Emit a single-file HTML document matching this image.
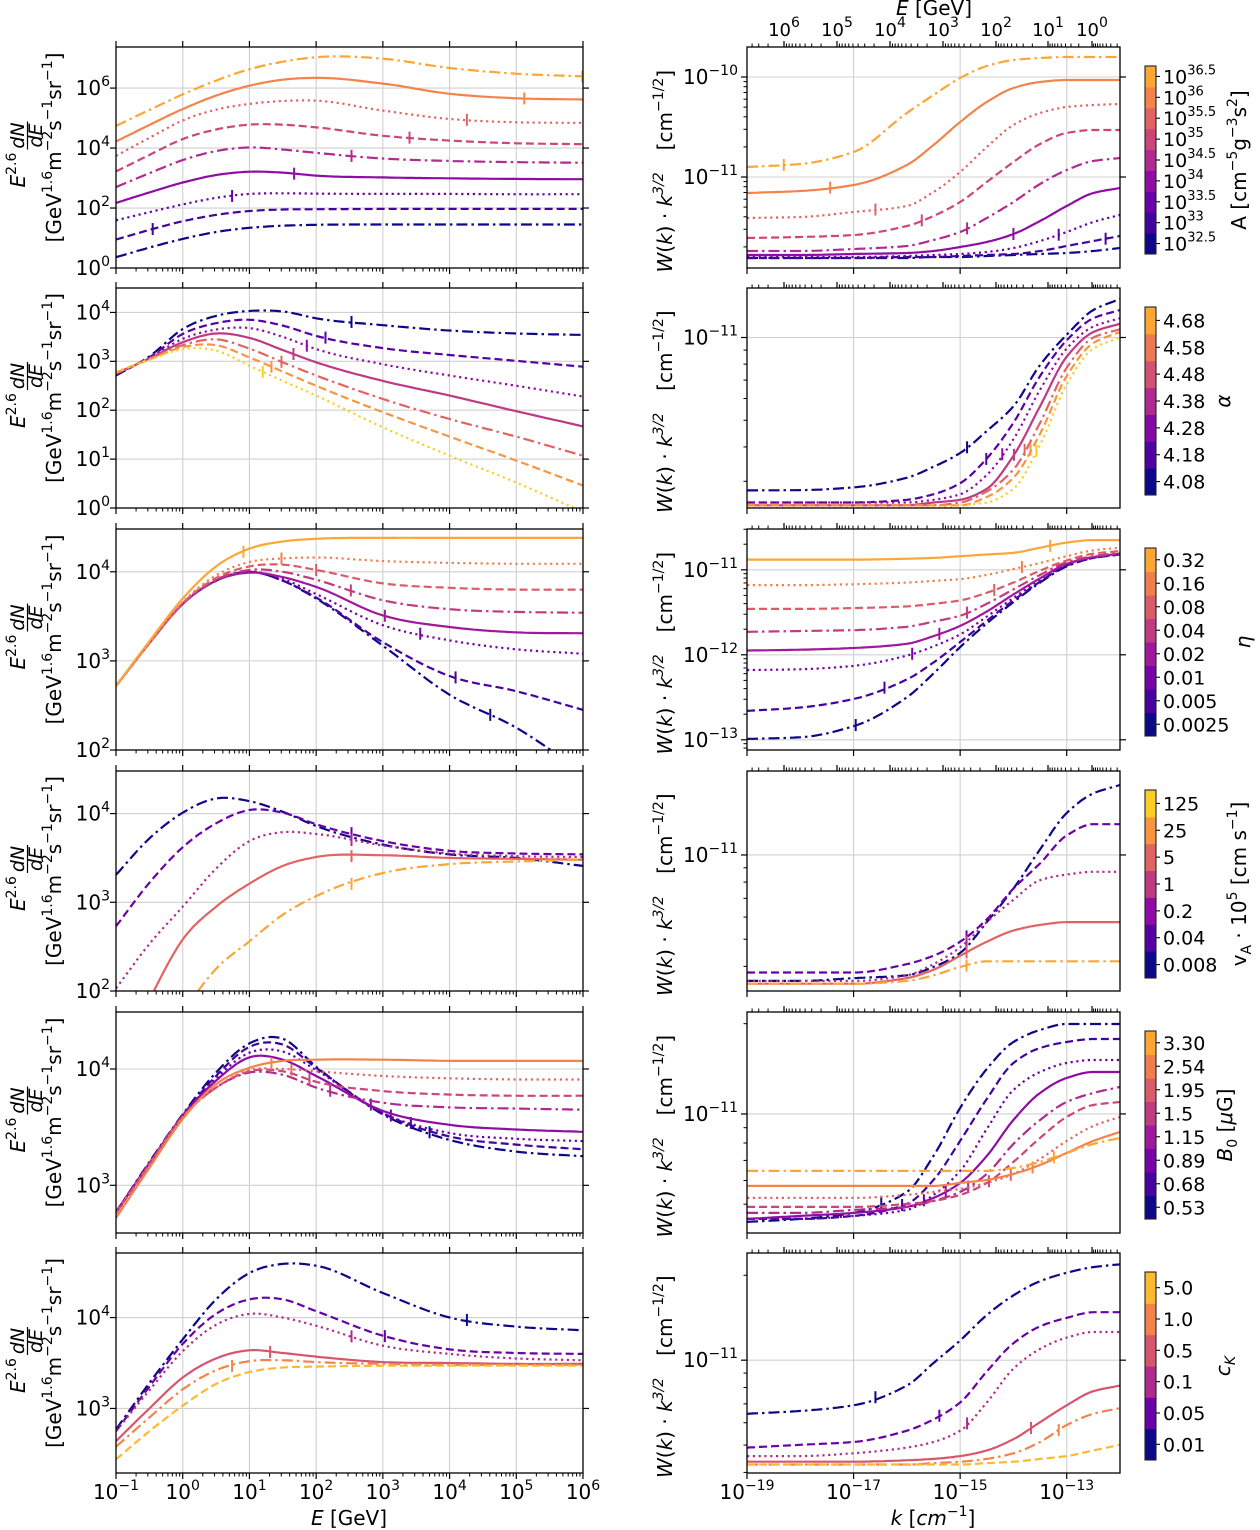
<!DOCTYPE html>
<html><head><meta charset="utf-8">
<style>
html,body{margin:0;padding:0;background:#fff;}
svg{display:block;font-family:"DejaVu Sans","Liberation Sans",sans-serif;}
</style></head>
<body>
<svg id="chart" width="1260" height="1530" viewBox="0 0 1260 1530" xmlns="http://www.w3.org/2000/svg">
<rect x="0" y="0" width="1260" height="1530" fill="#fff"/>
</svg>
<script>
// ---------------- DATA ----------------
const xsE = [-1,-0.5,0,0.5,1,1.5,2,3,4,5,6];            // log10 E [GeV]
const xsK = [-19,-18,-17,-16,-15.5,-15,-14.5,-14,-13.5,-13,-12.5,-12]; // log10 k

const L1_values = [
 [0.36,0.68,0.97,1.20,1.34,1.41,1.44,1.45,1.45,1.45,1.45],
 [0.95,1.27,1.56,1.77,1.90,1.95,1.96,1.97,1.97,1.97,1.97],
 [1.59,1.86,2.12,2.34,2.47,2.49,2.48,2.47,2.47,2.46,2.46],
 [2.17,2.52,2.85,3.10,3.21,3.18,3.08,3.02,2.99,2.97,2.96],
 [2.70,3.16,3.60,3.90,4.02,3.95,3.84,3.65,3.57,3.53,3.51],
 [3.22,3.77,4.30,4.62,4.78,4.78,4.69,4.41,4.25,4.16,4.13],
 [3.74,4.34,4.92,5.28,5.47,5.57,5.58,5.25,4.97,4.86,4.84],
 [4.22,4.77,5.30,5.75,6.08,6.28,6.34,6.15,5.81,5.66,5.62],
 [4.74,5.27,5.79,6.25,6.63,6.88,7.03,6.98,6.67,6.48,6.39]
];
const L1_markers = [null,-0.45,0.74,1.67,2.53,3.40,4.26,5.12,5.99];

const L2_values = [
 [2.71,3.10,3.66,3.93,4.03,4.02,3.88,3.74,3.63,3.57,3.54],
 [2.73,3.08,3.56,3.78,3.85,3.73,3.52,3.27,3.13,3.01,2.89],
 [2.74,3.07,3.46,3.65,3.68,3.50,3.25,2.94,2.71,2.50,2.28],
 [2.75,3.06,3.39,3.57,3.48,3.23,2.98,2.60,2.30,1.98,1.67],
 [2.76,3.05,3.33,3.45,3.26,2.98,2.71,2.23,1.82,1.46,1.07],
 [2.77,3.04,3.29,3.33,3.08,2.79,2.50,1.96,1.46,0.97,0.46],
 [2.79,3.03,3.25,3.22,2.91,2.60,2.30,1.65,1.07,0.52,-0.08]
];
const L2_markers = [2.53,2.14,1.86,1.66,1.48,1.33,1.20];

const L3_values = [
 [2.72,3.20,3.64,3.90,4.00,3.90,3.70,3.17,2.62,2.25,1.75],
 [2.72,3.20,3.64,3.90,4.00,3.90,3.71,3.21,2.83,2.66,2.45],
 [2.72,3.20,3.64,3.90,4.00,3.92,3.75,3.40,3.23,3.13,3.08],
 [2.72,3.20,3.64,3.90,3.99,3.94,3.83,3.51,3.38,3.32,3.31],
 [2.72,3.20,3.64,3.91,4.02,4.00,3.91,3.68,3.58,3.55,3.54],
 [2.72,3.20,3.65,3.93,4.06,4.08,4.02,3.87,3.82,3.80,3.80],
 [2.72,3.20,3.66,3.96,4.11,4.15,4.16,4.12,4.10,4.09,4.09],
 [2.72,3.22,3.70,4.06,4.26,4.34,4.37,4.38,4.38,4.38,4.38]
];
const L3_markers = [4.61,4.09,3.56,3.03,2.52,2.0,1.48,0.91];

const L4_values = [
 [3.31,3.72,4.01,4.17,4.14,4.02,3.86,3.65,3.54,3.50,3.41],
 [2.73,3.22,3.62,3.89,4.04,4.01,3.88,3.69,3.58,3.55,3.54],
 [2.03,2.53,2.95,3.38,3.69,3.79,3.77,3.64,3.55,3.52,3.51],
 [1.10,1.90,2.58,2.95,3.21,3.41,3.51,3.53,3.50,3.49,3.48],
 [0.30,1.10,1.75,2.25,2.56,2.86,3.07,3.33,3.43,3.46,3.48]
];
const L4_markers = [2.53,2.53,2.53,2.53,2.53];

const L5_values = [
 [2.77,3.20,3.61,3.97,4.22,4.26,4.02,3.61,3.39,3.29,3.25],
 [2.77,3.19,3.60,3.94,4.19,4.21,4.01,3.62,3.42,3.35,3.31],
 [2.77,3.19,3.60,3.92,4.14,4.15,3.99,3.62,3.45,3.40,3.38],
 [2.77,3.19,3.60,3.90,4.10,4.08,3.94,3.64,3.52,3.48,3.46],
 [2.76,3.18,3.59,3.84,3.97,3.95,3.84,3.71,3.67,3.66,3.65],
 [2.76,3.18,3.59,3.84,3.98,3.98,3.89,3.81,3.78,3.77,3.77],
 [2.76,3.18,3.59,3.84,3.99,4.00,3.98,3.94,3.92,3.91,3.91],
 [2.72,3.15,3.57,3.87,4.01,4.07,4.08,4.08,4.07,4.07,4.07]
];
const L5_markers = [3.70,3.42,3.12,2.82,2.21,1.90,1.63,1.33];

const L6_values = [
 [2.77,3.28,3.76,4.20,4.49,4.59,4.57,4.27,4.00,3.90,3.86],
 [2.75,3.24,3.71,4.04,4.20,4.20,4.07,3.80,3.65,3.61,3.60],
 [2.75,3.20,3.63,3.92,4.04,4.00,3.91,3.69,3.60,3.55,3.53],
 [2.64,3.00,3.34,3.55,3.64,3.61,3.57,3.51,3.50,3.49,3.49],
 [2.58,2.90,3.21,3.42,3.52,3.53,3.51,3.49,3.48,3.48,3.48],
 [2.44,2.75,3.03,3.27,3.40,3.45,3.46,3.47,3.47,3.47,3.47]
];
const L6_markers = [4.26,3.03,2.53,1.31,0.74,null];

const R1_values = [
 [-11.81,-11.81,-11.81,-11.81,-11.80,-11.80,-11.79,-11.78,-11.77,-11.76,-11.74,-11.71],
 [-11.81,-11.81,-11.81,-11.80,-11.80,-11.79,-11.78,-11.77,-11.74,-11.69,-11.64,-11.59],
 [-11.80,-11.80,-11.80,-11.79,-11.78,-11.77,-11.75,-11.71,-11.64,-11.55,-11.45,-11.38],
 [-11.78,-11.78,-11.77,-11.76,-11.74,-11.70,-11.65,-11.57,-11.44,-11.29,-11.16,-11.11],
 [-11.74,-11.74,-11.72,-11.69,-11.63,-11.55,-11.41,-11.25,-11.07,-10.93,-10.84,-10.81],
 [-11.61,-11.60,-11.58,-11.49,-11.39,-11.25,-11.05,-10.85,-10.67,-10.56,-10.53,-10.53],
 [-11.41,-11.40,-11.35,-11.29,-11.15,-10.95,-10.70,-10.48,-10.36,-10.30,-10.28,-10.27],
 [-11.16,-11.14,-11.08,-10.88,-10.68,-10.45,-10.25,-10.11,-10.05,-10.03,-10.03,-10.03],
 [-10.90,-10.87,-10.75,-10.36,-10.18,-10.01,-9.89,-9.83,-9.81,-9.80,-9.80,-9.80]
];
const R1_markers = [null,-12.27,-13.15,-14.0,-14.87,-15.72,-16.59,-17.44,-18.31];

const R2_values = [
 [-11.556,-11.555,-11.545,-11.51,-11.47,-11.42,-11.34,-11.25,-11.10,-10.99,-10.90,-10.86],
 [-11.60,-11.60,-11.60,-11.59,-11.57,-11.53,-11.44,-11.31,-11.14,-11.01,-10.93,-10.90],
 [-11.60,-11.60,-11.60,-11.60,-11.59,-11.57,-11.50,-11.37,-11.19,-11.04,-10.96,-10.93],
 [-11.61,-11.61,-11.61,-11.61,-11.60,-11.59,-11.55,-11.43,-11.25,-11.07,-10.98,-10.95],
 [-11.61,-11.61,-11.61,-11.61,-11.61,-11.60,-11.56,-11.48,-11.31,-11.11,-11.00,-10.97],
 [-11.61,-11.61,-11.61,-11.61,-11.61,-11.61,-11.58,-11.51,-11.35,-11.14,-11.02,-10.98],
 [-11.62,-11.62,-11.62,-11.62,-11.62,-11.61,-11.60,-11.55,-11.39,-11.17,-11.04,-11.00]
];
const R2_markers = [-14.87,-14.51,-14.21,-13.99,-13.79,-13.68,-13.57];

const R3_values = [
 [-12.99,-12.97,-12.84,-12.50,-12.22,-11.91,-11.63,-11.38,-11.15,-10.96,-10.86,-10.82],
 [-12.66,-12.62,-12.52,-12.29,-12.09,-11.85,-11.60,-11.36,-11.14,-10.95,-10.86,-10.82],
 [-12.18,-12.17,-12.13,-12.01,-11.90,-11.76,-11.55,-11.33,-11.12,-10.94,-10.85,-10.82],
 [-11.95,-11.94,-11.92,-11.87,-11.78,-11.66,-11.49,-11.29,-11.10,-10.93,-10.85,-10.81],
 [-11.73,-11.72,-11.71,-11.67,-11.61,-11.54,-11.40,-11.23,-11.06,-10.91,-10.84,-10.80],
 [-11.46,-11.46,-11.45,-11.43,-11.40,-11.36,-11.27,-11.15,-11.01,-10.89,-10.81,-10.78],
 [-11.18,-11.18,-11.17,-11.15,-11.13,-11.11,-11.06,-10.99,-10.92,-10.84,-10.77,-10.74],
 [-10.88,-10.88,-10.88,-10.87,-10.86,-10.84,-10.82,-10.80,-10.74,-10.68,-10.65,-10.65]
];
const R3_markers = [-16.96,-16.42,-15.90,-15.39,-14.87,-14.36,-13.84,-13.31];

const R4_values = [
 [-11.45,-11.45,-11.44,-11.43,-11.40,-11.35,-11.24,-11.12,-10.98,-10.85,-10.78,-10.75],
 [-11.42,-11.42,-11.42,-11.39,-11.36,-11.31,-11.23,-11.12,-11.03,-10.93,-10.89,-10.89],
 [-11.45,-11.45,-11.45,-11.43,-11.39,-11.33,-11.24,-11.16,-11.09,-11.07,-11.06,-11.06],
 [-11.46,-11.46,-11.46,-11.44,-11.41,-11.36,-11.31,-11.27,-11.25,-11.24,-11.24,-11.24],
 [-11.46,-11.46,-11.46,-11.45,-11.43,-11.40,-11.38,-11.38,-11.38,-11.38,-11.38,-11.38]
];
const R4_markers = [-14.88,-14.88,-14.88,-14.88,-14.88];

const R5_values = [
 [-11.36,-11.35,-11.33,-11.26,-11.14,-10.98,-10.85,-10.76,-10.72,-10.70,-10.70,-10.70],
 [-11.35,-11.35,-11.34,-11.30,-11.22,-11.09,-10.95,-10.83,-10.78,-10.76,-10.75,-10.75],
 [-11.35,-11.35,-11.34,-11.32,-11.27,-11.19,-11.05,-10.92,-10.86,-10.83,-10.82,-10.82],
 [-11.35,-11.34,-11.33,-11.31,-11.28,-11.23,-11.14,-11.02,-10.93,-10.88,-10.86,-10.86],
 [-11.33,-11.33,-11.32,-11.31,-11.29,-11.26,-11.20,-11.10,-11.02,-10.96,-10.93,-10.91],
 [-11.31,-11.31,-11.31,-11.30,-11.29,-11.27,-11.23,-11.16,-11.08,-11.01,-10.97,-10.96],
 [-11.28,-11.28,-11.28,-11.27,-11.26,-11.25,-11.23,-11.20,-11.15,-11.09,-11.04,-11.01],
 [-11.24,-11.24,-11.24,-11.24,-11.24,-11.23,-11.22,-11.20,-11.17,-11.13,-11.09,-11.06],
 [-11.19,-11.19,-11.19,-11.19,-11.19,-11.19,-11.19,-11.18,-11.16,-11.13,-11.10,-11.08]
];
const R5_markers = [-16.48,-16.09,-15.68,-15.27,-14.85,-14.46,-14.05,-13.64,-13.24];

const R6_values = [
 [-11.19,-11.18,-11.16,-11.09,-11.01,-10.93,-10.84,-10.77,-10.72,-10.69,-10.67,-10.66],
 [-11.31,-11.30,-11.29,-11.25,-11.21,-11.15,-11.04,-10.94,-10.88,-10.85,-10.83,-10.83],
 [-11.34,-11.34,-11.33,-11.31,-11.29,-11.25,-11.15,-11.03,-10.96,-10.92,-10.90,-10.90],
 [-11.36,-11.36,-11.36,-11.355,-11.35,-11.34,-11.32,-11.28,-11.22,-11.16,-11.11,-11.09],
 [-11.37,-11.37,-11.37,-11.37,-11.365,-11.36,-11.35,-11.33,-11.29,-11.23,-11.19,-11.17],
 [-11.37,-11.37,-11.37,-11.37,-11.37,-11.37,-11.365,-11.36,-11.35,-11.34,-11.32,-11.30]
];
const R6_markers = [-16.59,-15.39,-14.87,-13.67,-13.15,null];

const CB1_labels = [["10","32.5"],["10","33"],["10","33.5"],["10","34"],["10","34.5"],["10","35"],["10","35.5"],["10","36"],["10","36.5"]];
const CB2_labels = ["4.08","4.18","4.28","4.38","4.48","4.58","4.68"];
const CB3_labels = ["0.0025","0.005","0.01","0.02","0.04","0.08","0.16","0.32"];
const CB4_labels = ["0.008","0.04","0.2","1","5","25","125"];
const CB5_labels = ["0.53","0.68","0.89","1.15","1.5","1.95","2.54","3.30"];
const CB6_labels = ["0.01","0.05","0.1","0.5","1.0","5.0"];

const topEDecades = [6,5,4,3,2,1,0];

// ---------------- RENDER ----------------
const NS = 'http://www.w3.org/2000/svg';
const svg = document.getElementById('chart');
function mk(tag, attrs, parent){
  const e = document.createElementNS(NS, tag);
  for (const k in attrs) e.setAttribute(k, attrs[k]);
  parent.appendChild(e);
  return e;
}
const stops = ['#0d0887','#41049d','#6a00a8','#8f0da4','#b12a90','#cc4778','#e16462','#f2844b','#fca636','#fcce25','#f0f921'];
function hex(c){return [parseInt(c.substr(1,2),16),parseInt(c.substr(3,2),16),parseInt(c.substr(5,2),16)];}
function plasma(t){
  t=Math.max(0,Math.min(1,t)); const f=t*10, i=Math.min(9,Math.floor(f)), r=f-i;
  const a=hex(stops[i]), b=hex(stops[i+1]);
  return 'rgb('+a.map((v,j)=>Math.round(v+(b[j]-v)*r)).join(',')+')';
}
const dashes = ['11,4,2.5,4','8,4','2.2,3.6',''];
function sup(b,e,s){return b+'<tspan dy="-9" font-size="'+(s||14)+'">'+e+'</tspan>';}

// cubic Hermite path; monotone (Fritsch–Carlson) or smooth 3-point tangents
function curvePath(xs, vs, X, Y, mono){
  const n=xs.length, h=[], d=[], m=new Array(n);
  for(let i=0;i<n-1;i++){h[i]=xs[i+1]-xs[i]; d[i]=(vs[i+1]-vs[i])/h[i];}
  m[0]=d[0]; m[n-1]=d[n-2];
  for(let i=1;i<n-1;i++){
    if(mono){
      if(d[i-1]*d[i]<=0) m[i]=0;
      else { const w1=2*h[i]+h[i-1], w2=h[i]+2*h[i-1]; m[i]=(w1+w2)/(w1/d[i-1]+w2/d[i]); }
    } else {
      m[i]=(d[i-1]*h[i]+d[i]*h[i-1])/(h[i-1]+h[i]);
    }
  }
  let s='';
  for(let i=0;i<n-1;i++){
    const N=16;
    for(let k=(i===0?0:1);k<=N;k++){
      const t=k/N, t2=t*t, t3=t2*t;
      const v=(2*t3-3*t2+1)*vs[i]+(t3-2*t2+t)*h[i]*m[i]+(-2*t3+3*t2)*vs[i+1]+(t3-t2)*h[i]*m[i+1];
      const x=xs[i]+t*h[i];
      s+=(s===''?'M':'L')+X(x).toFixed(1)+','+Y(v).toFixed(1);
    }
  }
  return s;
}
function interp(xs,vs,m){
  for(let j=0;j<xs.length-1;j++){ if(m>=xs[j]&&m<=xs[j+1]){const r=(m-xs[j])/(xs[j+1]-xs[j]);return vs[j]+r*(vs[j+1]-vs[j]);} }
  return vs[vs.length-1];
}
const range=(n,f)=>Array.from({length:n},(_,i)=>f(i));

const rows=[[47,268],[288,508],[529,750],[771,991],[1012,1233],[1253,1473]];
const LX0=116, LX1=583, RX0=747, RX1=1120;
const leftPanels=[
 {vals:L1_values,mk:L1_markers,ymin:0,ymax:7.37,ticks:[0,2,4,6],cols:range(9,i=>i*0.1)},
 {vals:L2_values,mk:L2_markers,ymin:0,ymax:4.5,ticks:[0,1,2,3,4],cols:range(7,i=>i*0.15)},
 {vals:L3_values,mk:L3_markers,ymin:2,ymax:4.48,ticks:[2,3,4],cols:range(8,i=>i*0.8/7)},
 {vals:L4_values,mk:L4_markers,ymin:2,ymax:4.48,ticks:[2,3,4],cols:[0,0.2,0.4,0.6,0.8]},
 {vals:L5_values,mk:L5_markers,ymin:2.59,ymax:4.49,ticks:[3,4],cols:range(8,i=>i*0.1)},
 {vals:L6_values,mk:L6_markers,ymin:2.29,ymax:4.71,ticks:[3,4],cols:[0,0.2,0.4,0.55,0.7,0.85]}
];
const rightPanels=[
 {vals:R1_values,mk:R1_markers,ymin:-11.91,ymax:-9.70,ticks:[-11,-10],cols:range(9,i=>i*0.1)},
 {vals:R2_values,mk:R2_markers,ymin:-11.62,ymax:-10.82,ticks:[-11],cols:range(7,i=>i*0.15)},
 {vals:R3_values,mk:R3_markers,ymin:-13.12,ymax:-10.52,ticks:[-13,-12,-11],cols:range(8,i=>i*0.8/7)},
 {vals:R4_values,mk:R4_markers,ymin:-11.486,ymax:-10.70,ticks:[-11],cols:[0,0.2,0.4,0.6,0.8]},
 {vals:R5_values,mk:R5_markers,ymin:-11.397,ymax:-10.66,ticks:[-11],cols:range(9,i=>i*0.1)},
 {vals:R6_values,mk:R6_markers,ymin:-11.40,ymax:-10.62,ticks:[-11],cols:[0,0.2,0.4,0.55,0.7,0.85]}
];
const cbars=[
 {labels:CB1_labels,cols:range(9,i=>i*0.1),title:'A [cm<tspan dy="-9" font-size="14">−5</tspan><tspan dy="9">g</tspan><tspan dy="-9" font-size="14">−3</tspan><tspan dy="9">s</tspan><tspan dy="-9" font-size="14">2</tspan><tspan dy="9">]</tspan>',tx:1246},
 {labels:CB2_labels,cols:range(7,i=>i*0.8/6),title:'<tspan font-style="italic">α</tspan>',tx:1230},
 {labels:CB3_labels,cols:range(8,i=>i*0.8/7),title:'<tspan font-style="italic">η</tspan>',tx:1250},
 {labels:CB4_labels,cols:range(7,i=>i*0.15),title:'v<tspan dy="5" font-size="14">A</tspan><tspan dy="-5"> · 10</tspan><tspan dy="-9" font-size="14">5</tspan><tspan dy="9"> [cm s</tspan><tspan dy="-9" font-size="14">−1</tspan><tspan dy="9">]</tspan>',tx:1246},
 {labels:CB5_labels,cols:range(8,i=>i*0.8/7),title:'<tspan font-style="italic">B</tspan><tspan dy="5" font-size="14">0</tspan><tspan dy="-5"> [</tspan><tspan font-style="italic">μ</tspan>G]',tx:1232},
 {labels:CB6_labels,cols:[0,0.2,0.4,0.55,0.7,0.85],title:'<tspan font-style="italic">c</tspan><tspan dy="5" font-size="14" font-style="italic">K</tspan>',tx:1230}
];

function drawPanel(p, side, r){
  const top=rows[r][0], bot=rows[r][1];
  const x0 = side==='L'?LX0:RX0, x1 = side==='L'?LX1:RX1;
  const xmin = side==='L'?-1:-19, xmax = side==='L'?6:-12;
  const xs = side==='L'?xsE:xsK;
  const X = v => x0 + (v-xmin)/(xmax-xmin)*(x1-x0);
  const Y = v => bot - (v-p.ymin)/(p.ymax-p.ymin)*(bot-top);
  const g = mk('g',{},svg);
  
  
  const cid='clip'+side+r;
  const cp=mk('clipPath',{id:cid},g);
  mk('rect',{x:x0,y:top,width:x1-x0,height:bot-top},cp);
  const gx = side==='L'?[0,1,2,3,4,5]:[-17,-15,-13];
  gx.forEach(v=>{
    const l=mk('line',{x1:X(v),x2:X(v),y1:top,y2:bot,stroke:'#d0d0d0','stroke-width':1.1},g);
    
    
  });
  p.ticks.forEach(v=>{
    const l=mk('line',{x1:x0,x2:x1,y1:Y(v),y2:Y(v),stroke:'#d0d0d0','stroke-width':1.1},g);
    
    
  });
  p.vals.forEach((vs,i)=>{
    const col=plasma(p.cols[i]);
    const path=mk('path',{d:curvePath(xs,vs,X,Y,side==='R'),fill:'none',stroke:col,'stroke-width':2.2,'stroke-dasharray':dashes[i%4],'clip-path':'url(#'+cid+')'},g);
    
    
    const m=p.mk[i];
    if(m!==null && m!==undefined){
      const yy=Y(interp(xs,vs,m));
      const t=mk('line',{x1:X(m),x2:X(m),y1:yy-6,y2:yy+6,stroke:col,'stroke-width':2,'clip-path':'url(#'+cid+')'},g);
      
      
    }
  });
  const fr=mk('rect',{x:x0,y:top,width:x1-x0,height:bot-top,fill:'none',stroke:'#000','stroke-width':1.3},g);
  
  
  const tk=(a,b,c,d,w)=>mk('line',{x1:a,y1:b,x2:c,y2:d,stroke:'#000','stroke-width':w||1.2},g);
  p.ticks.forEach(v=>{
    const y=Y(v);
    tk(x0-6,y,x0,y); tk(x1,y,x1+6,y);
    const t=mk('text',{x:side==='L'?110:738,y:y+7,'text-anchor':'end','font-size':20},g);
    t.innerHTML=sup('10',String(v).replace('-','−'));
    
    
  });
  if(side==='R'){
    for(let d=Math.floor(p.ymin);d<=Math.ceil(p.ymax);d++){
      for(let m=2;m<=9;m++){const v=d+Math.log10(m); if(v>p.ymin&&v<p.ymax) tk(x0-3.5,Y(v),x0,Y(v),1);}
    }
  }
  if(side==='L'){
    for(let d=-1;d<=6;d++){
      tk(X(d),bot,X(d),bot+6); tk(X(d),top-6,X(d),top);
      if(d<6) for(let m=2;m<=9;m++){const v=d+Math.log10(m); tk(X(v),bot,X(v),bot+3.5,1);}
    }
  } else {
    [-19,-17,-15,-13].forEach(v=>tk(X(v),bot,X(v),bot+6));
    const Epos={7:731,6:784,5:837,4:890,3:943,2:996,1:1048,0:1092,'-1':1128};
    for(let d=7;d>=0;d--){
      const a=Epos[d], b=Epos[d-1];
      if(a>=RX0&&a<=RX1) tk(a,top-6,a,top);
      for(let m=2;m<=9;m++){const x=b+(a-b)*Math.log10(m); if(x>=RX0&&x<=RX1) tk(x,top-3.5,x,top,1);}
    }
  }
}

function leftYLabel(cy){
  const g=mk('g',{transform:'translate(25,'+(cy-4)+') rotate(-90)'},svg);
  
  
  const t1=mk('text',{x:-34,y:0,'font-size':20},g);
  t1.innerHTML='<tspan font-style="italic">E</tspan><tspan dy="-9" font-size="14">2.6</tspan>';
  const n=mk('text',{x:18,y:-1,'font-size':19,'font-style':'italic','text-anchor':'middle'},g);
  n.textContent='dN';
  mk('line',{x1:4,x2:32,y1:2.5,y2:2.5,stroke:'#000','stroke-width':1.2},g);
  const dd=mk('text',{x:18,y:17,'font-size':19,'font-style':'italic','text-anchor':'middle'},g);
  dd.textContent='dE';
  const g2=mk('g',{transform:'translate(61,'+(cy-10)+') rotate(-90)'},svg);
  
  
  const t2=mk('text',{x:0,y:0,'font-size':20,'text-anchor':'middle'},g2);
  t2.innerHTML='[GeV<tspan dy="-9" font-size="14">1.6</tspan><tspan dy="9">m</tspan><tspan dy="-9" font-size="14">−2</tspan><tspan dy="9">s</tspan><tspan dy="-9" font-size="14">−1</tspan><tspan dy="9">sr</tspan><tspan dy="-9" font-size="14">−1</tspan><tspan dy="9">]</tspan>';
}
function rightYLabel(cy){
  const g=mk('g',{transform:'translate(672,'+(cy+9)+') rotate(-90)'},svg);
  
  
  const t=mk('text',{x:-106,y:0,'font-size':20},g);
  t.innerHTML='<tspan font-style="italic">W</tspan>(<tspan font-style="italic">k</tspan>) · <tspan font-style="italic">k</tspan><tspan dy="-9" font-size="14" font-style="italic">3/2</tspan><tspan dy="9" dx="22">[cm</tspan><tspan dy="-9" font-size="14">−1/2</tspan><tspan dy="9">]</tspan>';
}
function colorbar(c, r){
  const top=rows[r][0]+19, h=188, x=1145, w=11, n=c.labels.length, bh=h/n;
  const g=mk('g',{},svg);
  
  
  c.labels.forEach((lab,i)=>{
    const y0=top+h-(i+1)*bh;
    const rr=mk('rect',{x:x,y:y0,width:w,height:bh+0.5,fill:plasma(c.cols[i])},g);
    
    
    const yc=y0+bh/2;
    mk('line',{x1:x+w,x2:x+w+4,y1:yc,y2:yc,stroke:'#000','stroke-width':1.1},g);
    const t=mk('text',{x:1163,y:yc+7,'font-size':19},g);
    t.innerHTML = Array.isArray(lab)? sup(lab[0],lab[1],13) : lab;
    
    
  });
  mk('rect',{x:x,y:top,width:w,height:h,fill:'none',stroke:'#222','stroke-width':1.1},g);
  const tg=mk('g',{transform:'translate('+c.tx+','+(top+h/2)+') rotate(-90)'},g);
  const tt=mk('text',{x:0,y:0,'font-size':20,'text-anchor':'middle'},tg);
  tt.innerHTML=c.title;
  
  
}

leftPanels.forEach((p,r)=>{ drawPanel(p,'L',r); leftYLabel((rows[r][0]+rows[r][1])/2); });
rightPanels.forEach((p,r)=>{ drawPanel(p,'R',r); rightYLabel((rows[r][0]+rows[r][1])/2); });
cbars.forEach((c,r)=>colorbar(c,r));

const LXf=v=>LX0+(v+1)/7*(LX1-LX0), RXf=v=>RX0+(v+19)/7*(RX1-RX0);
[-1,0,1,2,3,4,5,6].forEach(v=>{
  const t=mk('text',{x:LXf(v),y:1499,'font-size':20,'text-anchor':'middle'},svg);
  t.innerHTML=sup('10',String(v).replace('-','−'));
  
  
});
[-19,-17,-15,-13].forEach(v=>{
  const t=mk('text',{x:RXf(v),y:1499,'font-size':20,'text-anchor':'middle'},svg);
  t.innerHTML=sup('10',String(v).replace('-','−'));
  
  
});
const xl=mk('text',{x:349,y:1525,'font-size':20,'text-anchor':'middle'},svg);
xl.innerHTML='<tspan font-style="italic">E</tspan>  [GeV]';


const kl=mk('text',{x:933,y:1525,'font-size':20,'text-anchor':'middle'},svg);
kl.innerHTML='<tspan font-style="italic">k</tspan> [<tspan font-style="italic">cm</tspan><tspan dy="-9" font-size="14">−1</tspan><tspan dy="9">]</tspan>';



const topEPos={6:784,5:837,4:890,3:943,2:996,1:1048,0:1092};
topEDecades.forEach(d=>{
  const t=mk('text',{x:topEPos[d],y:36,'font-size':18,'text-anchor':'middle'},svg);
  t.innerHTML=sup('10',String(d));
  
  
});
const tl=mk('text',{x:934,y:15,'font-size':20,'text-anchor':'middle'},svg);
tl.innerHTML='<tspan font-style="italic">E</tspan>  [GeV]';


</script>
</body></html>
